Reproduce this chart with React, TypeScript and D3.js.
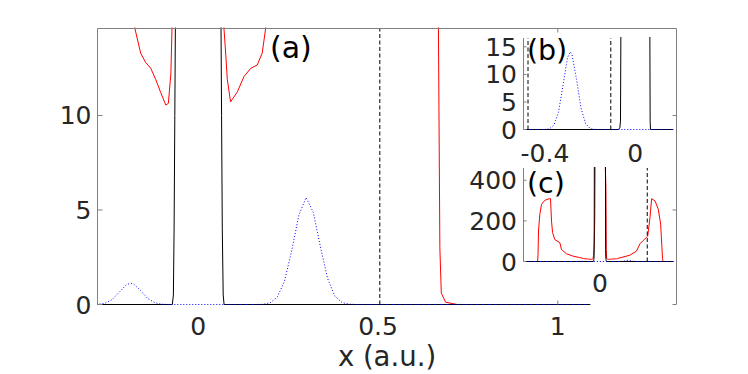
import React from "react";
import * as d3 from "d3";

type Pt = [number, number];

// curves shared by panel (a) and inset (c)
const blueA: Pt[] = [
  [-0.8, 0], [-0.3, 0], [-0.28, 0.01], [-0.26, 0.06], [-0.24, 0.25], [-0.22, 0.64],
  [-0.2, 1.04], [-0.188, 1.13], [-0.18, 1.09], [-0.16, 0.73], [-0.14, 0.31],
  [-0.12, 0.09], [-0.1, 0.015], [-0.08, 0], [0.16, 0], [0.18, 0.01], [0.2, 0.09],
  [0.22, 0.39], [0.24, 1.24], [0.26, 2.85], [0.28, 4.73], [0.3, 5.66], [0.32, 4.88],
  [0.34, 3.04], [0.36, 1.37], [0.38, 0.44], [0.4, 0.1], [0.42, 0.02], [0.44, 0], [1.09, 0],
];
const blackA: Pt[] = [
  [-0.8, 0], [-0.072, 0], [-0.069, 0.5], [-0.067, 4], [-0.065, 10], [-0.063, 16],
  [-0.061, 60], [-0.059, 600], [0, 2000], [0.059, 600], [0.061, 60], [0.063, 16],
  [0.065, 10], [0.067, 4], [0.0695, 0.5], [0.072, 0], [1.09, 0],
];
const redA: Pt[] = [
  [-0.8, 0], [-0.665, 0], [-0.66, 30], [-0.655, 150], [-0.641, 232], [-0.623, 281],
  [-0.588, 301], [-0.541, 309], [-0.527, 309], [-0.516, 199], [-0.505, 142],
  [-0.481, 108], [-0.427, 92], [-0.41, 59], [-0.356, 38], [-0.285, 26], [-0.22, 20],
  [-0.176, 14.6], [-0.16, 13.3], [-0.146, 12.8], [-0.132, 12.5], [-0.118, 11.9],
  [-0.104, 11.2], [-0.09, 10.55], [-0.083, 10.64], [-0.076, 12.2], [-0.0728, 14.6],
  [-0.068, 30], [-0.062, 80], [-0.055, 200], [-0.05, 600], [0, 800], [0.05, 600],
  [0.06, 430], [0.064, 365], [0.068, 60], [0.0717, 14.6], [0.0764, 13.3],
  [0.081, 11.9], [0.09, 10.72], [0.109, 11.25], [0.127, 12.05], [0.146, 12.49],
  [0.164, 12.67], [0.178, 13.3], [0.1875, 14.6], [0.214, 18], [0.32, 31], [0.39, 51],
  [0.427, 87], [0.463, 104], [0.51, 125], [0.534, 216], [0.552, 309], [0.588, 298],
  [0.623, 257], [0.648, 183], [0.668, 14.6], [0.672, 3], [0.676, 0.6], [0.688, 0.12],
  [0.72, 0], [0.886, 0],
];
const dashA = [0.505];

// inset (b)
const blueB: Pt[] = [
  [-0.495, 0], [-0.4, 0.01], [-0.38, 0.13], [-0.36, 0.79], [-0.34, 3.1], [-0.32, 8.0],
  [-0.3, 13.0], [-0.288, 14.1], [-0.28, 13.6], [-0.26, 9.1], [-0.24, 3.9], [-0.22, 1.08],
  [-0.2, 0.19], [-0.18, 0.02], [-0.16, 0], [0.17, 0],
];
const blackB: Pt[] = [
  [-0.495, 0], [-0.074, 0], [-0.068, 0.3], [-0.065, 1.5], [-0.063, 20], [-0.06, 200],
  [0, 400], [0.06, 200], [0.065, 20], [0.0665, 1.5], [0.068, 0], [0.17, 0],
];
const dashB = [-0.475, -0.108];

const mainXTicks = [0, 0.5, 1];
const mainXTickMarks = [1];
const mainYTicks = [0, 5, 10];
const bXTicks = [-0.4, 0];
const bYTicks = [0, 5, 10, 15];
const cXTicks = [0];
const cYTicks = [0, 200, 400];

const FONT = "DejaVu Sans";
const TXT = "#262626";
const AX = "#808080";

type Series = { pts: Pt[]; color: string; dash?: string };

function Curves({ id, x, y, series, dashes }: any) {
  const line = d3.line<Pt>().x((d) => x(d[0])).y((d) => y(d[1]));
  const [x0, x1] = x.range();
  const [y0, y1] = y.range();
  // clip a bit past the limits so lines sitting on zero keep their full width
  return (
    <g>
      <clipPath id={id}>
        <rect x={x0} y={y1 - 1} width={x1 - x0} height={y0 - y1 + 2} />
      </clipPath>
      <g clipPath={`url(#${id})`}>
        {series.map((s: Series, i: number) => (
          <path key={i} d={line(s.pts) || ""} fill="none" stroke={s.color}
            strokeWidth={1} strokeDasharray={s.dash} />
        ))}
        {dashes.map((d: number, i: number) => (
          <line key={"d" + i} x1={x(d)} x2={x(d)} y1={y0} y2={y1}
            stroke="#000" strokeWidth={1} strokeDasharray="4,2.5" />
        ))}
      </g>
    </g>
  );
}

function Inset({ id, x, y, xTicks, yTicks, series, dashes, label, labelY, xLabelY }: any) {
  const [x0] = x.range();
  const [y0, y1] = y.range();
  return (
    <g>
      <Curves id={id} x={x} y={y} series={series} dashes={dashes} />
      <line x1={x0} x2={x0} y1={y0} y2={y1} stroke={AX} />
      {yTicks.map((t: number) => (
        <g key={t}>
          <line x1={x0} x2={x0 + 3} y1={y(t)} y2={y(t)} stroke={AX} />
          <text x={x0 - 6.5} y={y(t) + 9} textAnchor="end" fontSize={25}
            fontFamily={FONT} fill={TXT}>{t}</text>
        </g>
      ))}
      {xTicks.map((t: number) => (
        <text key={t} x={x(t)} y={xLabelY} textAnchor="middle" fontSize={25}
          fontFamily={FONT} fill={TXT}>{String(t)}</text>
      ))}
      <text x={x0 + 3.4} y={labelY} fontSize={28.5} fontFamily={FONT} fill="#000">{label}</text>
    </g>
  );
}

export default function App() {
  const xA = d3.scaleLinear().domain([-0.28, 1.33]).range([97.5, 676.5]);
  const yA = d3.scaleLinear().domain([0, 14.6]).range([304.5, 28.5]);
  const xB = d3.scaleLinear().domain([-0.495, 0.17]).range([523.5, 673.5]);
  const yB = d3.scaleLinear().domain([0, 16.6]).range([129.5, 38]);
  const xC = d3.scaleLinear().domain([-0.815, 0.785]).range([523.5, 673.5]);
  const yC = d3.scaleLinear().domain([0, 460]).range([261.5, 168]);

  const seriesA: Series[] = [
    { pts: redA, color: "#ff0000" },
    { pts: blackA, color: "#000000" },
    { pts: blueA, color: "#0000ff", dash: "1,2" },
  ];
  const seriesB: Series[] = [
    { pts: blackB, color: "#000000" },
    { pts: blueB, color: "#0000ff", dash: "1,2" },
  ];

  const [l, r] = xA.range();
  const [b, t] = yA.range();

  return (
    <svg width={748} height={374} style={{ position: "absolute", left: 0, top: 0, background: "#fff" }}>
      <Curves id="clipA" x={xA} y={yA} series={seriesA} dashes={dashA} />
      {/* main box: left, top, right */}
      <path d={`M${l},${b}V${t}H${r}V${b}`} fill="none" stroke={AX} />
      {mainYTicks.map((v) => (
        <g key={v}>
          <line x1={l} x2={l + 5} y1={yA(v)} y2={yA(v)} stroke={AX} />
          <line x1={r} x2={r - 4} y1={yA(v)} y2={yA(v)} stroke={AX} />
          <text x={91.5} y={yA(v) + 9} textAnchor="end" fontSize={25}
            fontFamily={FONT} fill={TXT}>{v}</text>
        </g>
      ))}
      {mainXTickMarks.map((v) => (
        <g key={v}>
          <line x1={xA(v)} x2={xA(v)} y1={t} y2={t + 4} stroke={AX} />
          <line x1={xA(v)} x2={xA(v)} y1={b} y2={b - 4} stroke={AX} />
        </g>
      ))}
      {mainXTicks.map((v) => (
        <text key={v} x={xA(v)} y={335} textAnchor="middle" fontSize={25}
          fontFamily={FONT} fill={TXT}>{String(v)}</text>
      ))}
      <text x={(l + r) / 2} y={366} textAnchor="middle" fontSize={27.5}
        fontFamily={FONT} fill={TXT}>x (a.u.)</text>
      <text x={270} y={58} fontSize={30} fontFamily={FONT} fill="#000">(a)</text>

      <Inset id="clipB" x={xB} y={yB} xTicks={bXTicks} yTicks={bYTicks}
        series={seriesB} dashes={dashB} label="(b)" labelY={59.5} xLabelY={162} />
      <Inset id="clipC" x={xC} y={yC} xTicks={cXTicks} yTicks={cYTicks}
        series={seriesA} dashes={dashA} label="(c)" labelY={193} xLabelY={291.5} />
    </svg>
  );
}
